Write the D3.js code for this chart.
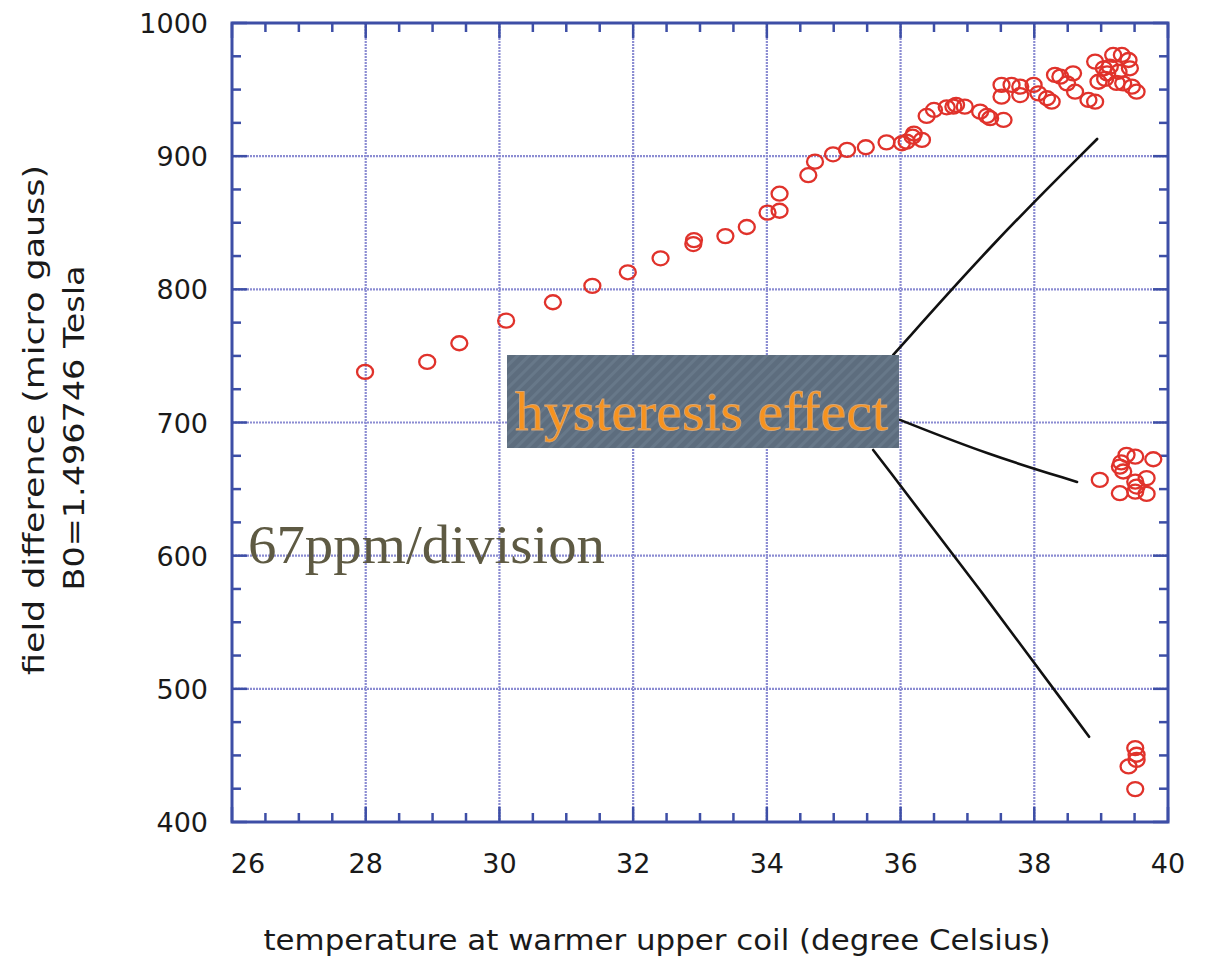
<!DOCTYPE html>
<html>
<head>
<meta charset="utf-8">
<script src="https://cdn.jsdelivr.net/npm/d3@7"></script>
<style>
  body { margin: 0; background: #fff; }
  svg { display: block; }
</style>
</head>
<body>
<script>
// readings: coil temperature (deg C) vs field difference (micro gauss)
const tempC = [
  27.99, 28.92, 29.40, 30.10, 30.80, 31.39, 31.92, 32.41, 32.90, 32.91,
  33.38, 33.70, 34.01, 34.19, 34.19, 34.62, 34.72, 34.99, 35.20, 35.48,
  35.79, 36.02, 36.09, 36.18, 36.20, 36.32, 36.39, 36.50, 36.69, 36.79,
  36.83, 36.96, 37.19, 37.29, 37.34, 37.54, 37.51, 37.51, 37.66, 37.79,
  37.79, 37.99, 38.06, 38.19, 38.26, 38.31, 38.39, 38.49, 38.58, 38.61,
  38.81, 38.91, 38.91, 38.96, 39.04, 39.09, 39.13, 39.18, 39.26, 39.31,
  39.33, 39.41, 39.43, 39.46, 39.53, 39.06, 39.23,
  38.98, 39.28, 39.33, 39.38, 39.51, 39.28, 39.51, 39.53, 39.51, 39.68,
  39.68, 39.78, 39.30,
  39.51, 39.53, 39.53, 39.41, 39.51
];
const fieldDiff = [
  738, 745.5, 759.5, 776.5, 790.3, 802.6, 812.8, 823.3, 834, 837,
  840, 846.8, 857.6, 859, 871.8, 885.7, 895.9, 901.4, 904.7, 906.7,
  910.4, 909.7, 910.9, 914.6, 917, 912.2, 930.2, 934.7, 936.7, 937.2,
  938.5, 937.2, 933.4, 930.2, 928.5, 927.2, 944.7, 953.5, 953.5, 952.2,
  945.9, 953.5, 947.2, 943.5, 940.9, 961, 959.7, 954.7, 962.2, 948.4,
  942.2, 940.9, 971, 955.9, 966, 962.2, 967.2, 976, 963.4, 976,
  954.7, 972.2, 966, 952.2, 948.4, 958, 955,
  656.9, 666.9, 663.2, 675.7, 674.4, 646.9, 655.6, 651.9, 648.1, 658.2,
  646.4, 672.4, 670,
  455.5, 450.5, 446.7, 441.7, 424.7
];

const xTicks = [26, 28, 30, 32, 34, 36, 38, 40];
const yTicks = [400, 500, 600, 700, 800, 900, 1000];

// hand-drawn pointer lines, in data units
const pointerUpper = [[35.89, 750.7], [37.4, 836], [38.94, 912.9]];
const pointerMiddle = [[35.99, 702], [37.3, 676], [38.64, 655.4]];
const pointerLower = [[35.59, 679.4], [37.2, 574], [38.82, 464]];

const width = 1210, height = 958;
const plotLeft = 232, plotRight = 1168, plotTop = 23, plotBottom = 822;

const frameColor = "#3d4ea6";
const gridColor = "#8b8cd2";
const pointColor = "#e0322b";

const x = d3.scaleLinear().domain([26, 40]).range([plotLeft, plotRight]);
const y = d3.scaleLinear().domain([400, 1000]).range([plotBottom, plotTop]);

const svg = d3.select("body").append("svg")
  .attr("width", width)
  .attr("height", height);

const defs = svg.append("defs");
const pat = defs.append("pattern")
  .attr("id", "texture")
  .attr("patternUnits", "userSpaceOnUse")
  .attr("width", 8).attr("height", 8)
  .attr("patternTransform", "rotate(45)");
pat.append("rect").attr("width", 8).attr("height", 8).attr("fill", "#5d6d7e");
pat.append("rect").attr("width", 3).attr("height", 8).attr("fill", "#677889");

// grid
svg.append("g")
  .selectAll("line")
  .data(xTicks.slice(1, -1))
  .join("line")
  .attr("x1", d => x(d)).attr("x2", d => x(d))
  .attr("y1", plotTop).attr("y2", plotBottom)
  .attr("stroke", gridColor)
  .attr("stroke-width", 2.2)
  .attr("stroke-dasharray", "2,1");

svg.append("g")
  .selectAll("line")
  .data(yTicks.slice(1, -1))
  .join("line")
  .attr("x1", plotLeft).attr("x2", plotRight)
  .attr("y1", d => y(d)).attr("y2", d => y(d))
  .attr("stroke", gridColor)
  .attr("stroke-width", 2.2)
  .attr("stroke-dasharray", "2,1");

// ticks pointing inwards on all four sides
const xMinor = d3.range(26, 40.01, 0.5).filter(v => v % 2 !== 0);
const yMinor = d3.range(400, 1000.1, 25).filter(v => v % 100 !== 0);
const ticks = svg.append("g")
  .attr("stroke", frameColor)
  .attr("stroke-width", 2.5);

function vTicks(vals, len) {
  vals.forEach(v => {
    ticks.append("line").attr("x1", x(v)).attr("x2", x(v)).attr("y1", plotBottom).attr("y2", plotBottom - len);
    ticks.append("line").attr("x1", x(v)).attr("x2", x(v)).attr("y1", plotTop).attr("y2", plotTop + len);
  });
}
function hTicks(vals, len) {
  vals.forEach(v => {
    ticks.append("line").attr("y1", y(v)).attr("y2", y(v)).attr("x1", plotLeft).attr("x2", plotLeft + len);
    ticks.append("line").attr("y1", y(v)).attr("y2", y(v)).attr("x1", plotRight).attr("x2", plotRight - len);
  });
}
vTicks(xMinor, 9);
vTicks(xTicks, 15);
hTicks(yMinor, 9);
hTicks(yTicks, 15);

svg.append("rect")
  .attr("x", plotLeft).attr("y", plotTop)
  .attr("width", plotRight - plotLeft).attr("height", plotBottom - plotTop)
  .attr("fill", "none")
  .attr("stroke", frameColor)
  .attr("stroke-width", 3);

// tick labels
svg.append("g")
  .selectAll("text")
  .data(yTicks)
  .join("text")
  .attr("x", 208)
  .attr("y", d => y(d) + 10)
  .attr("text-anchor", "end")
  .attr("font-family", "DejaVu Sans, sans-serif")
  .attr("font-size", 27)
  .attr("fill", "#1a1a1a")
  .text(d => d);

svg.append("g")
  .selectAll("text")
  .data(xTicks)
  .join("text")
  .attr("x", (d, i) => x(d) + (i === 0 ? 16 : 0))
  .attr("y", 873)
  .attr("text-anchor", "middle")
  .attr("font-family", "DejaVu Sans, sans-serif")
  .attr("font-size", 27)
  .attr("fill", "#1a1a1a")
  .text(d => d);

// axis titles
svg.append("text")
  .attr("x", 657).attr("y", 950)
  .attr("text-anchor", "middle")
  .attr("font-family", "DejaVu Sans, sans-serif")
  .attr("font-size", 28)
  .attr("textLength", 787)
  .attr("lengthAdjust", "spacingAndGlyphs")
  .attr("fill", "#1a1a1a")
  .text("temperature at warmer upper coil (degree Celsius)");

svg.append("text")
  .attr("transform", "translate(44,420) rotate(-90)")
  .attr("text-anchor", "middle")
  .attr("font-family", "DejaVu Sans, sans-serif")
  .attr("font-size", 29)
  .attr("textLength", 510)
  .attr("lengthAdjust", "spacingAndGlyphs")
  .attr("fill", "#1a1a1a")
  .text("field difference (micro gauss)");

svg.append("text")
  .attr("transform", "translate(84,428) rotate(-90)")
  .attr("text-anchor", "middle")
  .attr("font-family", "DejaVu Sans, sans-serif")
  .attr("font-size", 29)
  .attr("textLength", 325)
  .attr("lengthAdjust", "spacingAndGlyphs")
  .attr("fill", "#1a1a1a")
  .text("B0=1.496746 Tesla");

// data points
const pts = tempC.map((t, i) => ({ t, f: fieldDiff[i] }));
svg.append("g")
  .selectAll("ellipse")
  .data(pts)
  .join("ellipse")
  .attr("cx", d => x(d.t))
  .attr("cy", d => y(d.f))
  .attr("rx", 8)
  .attr("ry", 7)
  .attr("fill", "none")
  .attr("stroke", pointColor)
  .attr("stroke-width", 2.3);

// pointer lines
const line = d3.line().x(d => x(d[0])).y(d => y(d[1])).curve(d3.curveBasis);
svg.append("g")
  .selectAll("path")
  .data([pointerUpper, pointerMiddle, pointerLower])
  .join("path")
  .attr("d", line)
  .attr("fill", "none")
  .attr("stroke", "#111")
  .attr("stroke-width", 2.6)
  .attr("stroke-linecap", "round");

// annotation box
svg.append("rect")
  .attr("x", 507).attr("y", 355)
  .attr("width", 392).attr("height", 93)
  .attr("fill", "url(#texture)");

svg.append("text")
  .attr("x", 515).attr("y", 430)
  .attr("font-family", "Liberation Serif, serif")
  .attr("font-size", 54)
  .attr("textLength", 373)
  .attr("lengthAdjust", "spacingAndGlyphs")
  .attr("fill", "#f7931e")
  .attr("stroke", "#d9a673")
  .attr("stroke-width", 0.8)
  .text("hysteresis effect");

svg.append("text")
  .attr("x", 248).attr("y", 563)
  .attr("font-family", "Liberation Serif, serif")
  .attr("font-size", 54)
  .attr("textLength", 357)
  .attr("lengthAdjust", "spacingAndGlyphs")
  .attr("fill", "#5e5a43")
  .text("67ppm/division");
</script>
</body>
</html>
